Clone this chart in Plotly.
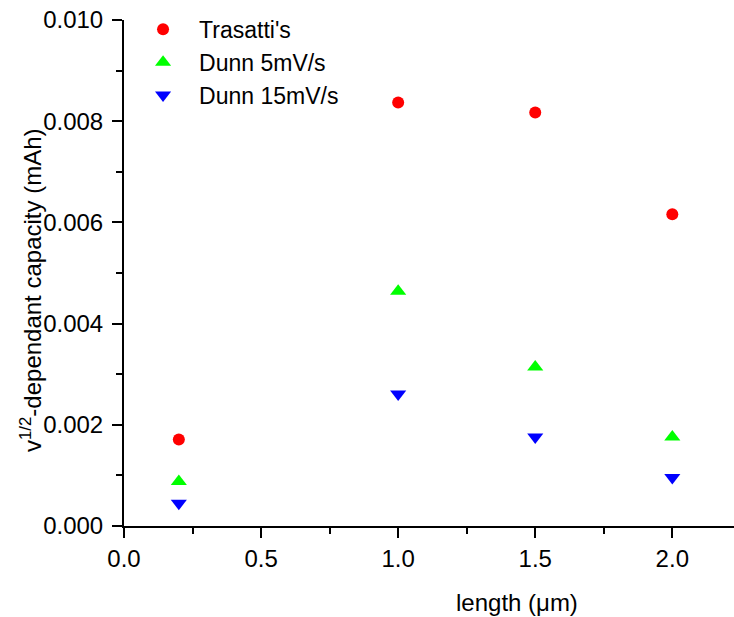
import plotly.graph_objects as go

lengths = [0.2, 1.0, 1.5, 2.0]
trasatti = [0.00171, 0.00837, 0.00817, 0.00616]
dunn_5 = [0.00088, 0.00464, 0.00314, 0.00176]
dunn_15 = [0.00045, 0.00261, 0.00176, 0.00096]

names = ["Trasatti's", "Dunn 5mV/s", "Dunn 15mV/s"]
colors = ["#FF0000", "#00FF00", "#0000FF"]
symbols = ["circle", "triangle-up", "triangle-down"]
sizes = [12, 14, 14]

x_ticks = [0, 0.5, 1.0, 1.5, 2.0]
x_ticktext = ["0.0", "0.5", "1.0", "1.5", "2.0"]
y_ticks = [0, 0.002, 0.004, 0.006, 0.008, 0.010]
y_ticktext = ["0.000", "0.002", "0.004", "0.006", "0.008", "0.010"]

FONT = "Arial, 'Liberation Sans', sans-serif"
FS = 24

fig = go.Figure()
for i, ys in enumerate([trasatti, dunn_5, dunn_15]):
    fig.add_trace(go.Scatter(
        x=lengths, y=ys, mode="markers", name=names[i],
        marker=dict(symbol=symbols[i], color=colors[i], size=sizes[i], line=dict(width=0)),
    ))

axis_common = dict(
    showline=True, linecolor="black", linewidth=2,
    ticks="outside", ticklen=10, tickwidth=2, tickcolor="black",
    showgrid=False, zeroline=False, mirror=False,
    tickfont=dict(family=FONT, size=FS, color="black"),
)

fig.update_xaxes(
    range=[0, 2.225], tickvals=x_ticks, ticktext=x_ticktext,
    minor=dict(tickvals=[0.25, 0.75, 1.25, 1.75], ticklen=6, tickwidth=2, tickcolor="black", ticks="outside"),
    **axis_common,
)
fig.update_yaxes(
    range=[0, 0.010], tickvals=y_ticks, ticktext=y_ticktext,
    minor=dict(tickvals=[0.001, 0.003, 0.005, 0.007, 0.009], ticklen=6, tickwidth=2, tickcolor="black", ticks="outside"),
    ticklabelstandoff=4,
    **axis_common,
)

PLOT_L, PLOT_W = 124, 610
PLOT_T, PLOT_H = 20, 506

fig.add_annotation(
    text="length (\u03bcm)", xref="paper", yref="paper",
    x=(517 - PLOT_L) / PLOT_W, y=0, yshift=-(602 - (PLOT_T + PLOT_H)),
    xanchor="center", yanchor="middle", showarrow=False,
    font=dict(family=FONT, size=FS, color="black"),
)
fig.add_annotation(
    text="v<sup>1/2</sup>-dependant capacity (mAh)", xref="paper", yref="paper",
    x=0, xshift=-(PLOT_L - 31), y=1 - (290 - PLOT_T) / PLOT_H,
    xanchor="center", yanchor="middle", showarrow=False, textangle=-90,
    font=dict(family=FONT, size=FS, color="black"),
)

fig.update_layout(
    width=734, height=617,
    margin=dict(l=PLOT_L, r=0, t=PLOT_T, b=617 - PLOT_T - PLOT_H),
    paper_bgcolor="white", plot_bgcolor="white",
    showlegend=True,
    legend=dict(
        x=0.005, y=1.024, xanchor="left", yanchor="top",
        bgcolor="rgba(0,0,0,0)", borderwidth=0,
        font=dict(family=FONT, size=23, color="black"),
        itemwidth=62, tracegroupgap=0,
    ),
)

fig.write_html("out.html")
